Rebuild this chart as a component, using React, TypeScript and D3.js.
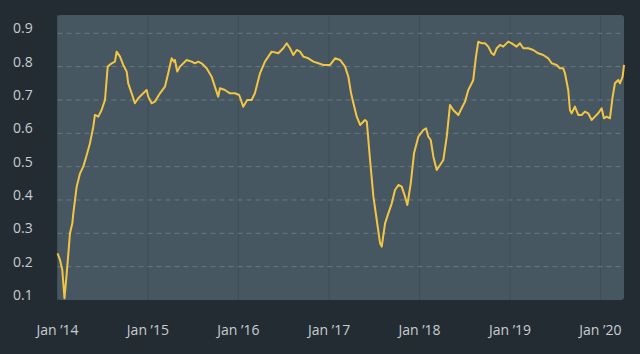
import React from "react";
import * as d3 from "d3";

// decimal years of each observation
const years: number[] = [
  2014.0, 2014.028, 2014.053, 2014.077, 2014.102, 2014.138, 2014.164, 2014.175, 2014.212, 2014.249,
  2014.285, 2014.323, 2014.359, 2014.396, 2014.414, 2014.451, 2014.488, 2014.525, 2014.555, 2014.599,
  2014.635, 2014.654, 2014.691, 2014.727, 2014.765, 2014.782, 2014.82, 2014.856, 2014.893, 2014.948,
  2014.986, 2015.003, 2015.041, 2015.077, 2015.133, 2015.188, 2015.224, 2015.262, 2015.287, 2015.298,
  2015.324, 2015.354, 2015.428, 2015.483, 2015.519, 2015.556, 2015.593, 2015.649, 2015.704, 2015.74,
  2015.777, 2015.796, 2015.851, 2015.906, 2015.961, 2016.009, 2016.053, 2016.097, 2016.146, 2016.182,
  2016.238, 2016.293, 2016.367, 2016.44, 2016.495, 2016.533, 2016.569, 2016.606, 2016.643, 2016.68,
  2016.716, 2016.771, 2016.827, 2016.882, 2016.937, 2017.011, 2017.066, 2017.122, 2017.177, 2017.213,
  2017.243, 2017.269, 2017.306, 2017.343, 2017.398, 2017.417, 2017.453, 2017.49, 2017.527, 2017.564,
  2017.582, 2017.619, 2017.655, 2017.693, 2017.729, 2017.766, 2017.803, 2017.84, 2017.865, 2017.903,
  2017.939, 2017.987, 2018.042, 2018.072, 2018.097, 2018.124, 2018.153, 2018.19, 2018.227, 2018.263,
  2018.301, 2018.337, 2018.373, 2018.429, 2018.466, 2018.503, 2018.539, 2018.577, 2018.594, 2018.624,
  2018.65, 2018.687, 2018.724, 2018.76, 2018.798, 2018.823, 2018.853, 2018.89, 2018.926, 2018.981,
  2019.019, 2019.074, 2019.11, 2019.147, 2019.202, 2019.257, 2019.313, 2019.368, 2019.423, 2019.461,
  2019.516, 2019.552, 2019.589, 2019.608, 2019.644, 2019.663, 2019.682, 2019.718, 2019.755, 2019.792,
  2019.829, 2019.865, 2019.903, 2019.939, 2019.976, 2020.013, 2020.039, 2020.069, 2020.105, 2020.135,
  2020.16, 2020.197, 2020.215, 2020.245, 2020.26,
];

const values: number[] = [
  0.24, 0.22, 0.19, 0.105, 0.18, 0.3, 0.33, 0.36, 0.44, 0.48,
  0.5, 0.535, 0.57, 0.62, 0.655, 0.65, 0.67, 0.7, 0.8, 0.81,
  0.815, 0.845, 0.83, 0.805, 0.785, 0.75, 0.72, 0.69, 0.705, 0.72,
  0.73, 0.71, 0.69, 0.695, 0.72, 0.74, 0.78, 0.825, 0.815, 0.82,
  0.785, 0.8, 0.82, 0.815, 0.81, 0.815, 0.81, 0.795, 0.77, 0.74,
  0.71, 0.735, 0.73, 0.72, 0.72, 0.715, 0.68, 0.7, 0.7, 0.72,
  0.78, 0.815, 0.845, 0.84, 0.855, 0.87, 0.855, 0.835, 0.85, 0.845,
  0.83, 0.825, 0.815, 0.81, 0.805, 0.805, 0.825, 0.82, 0.8, 0.77,
  0.72, 0.69, 0.65, 0.625, 0.64, 0.635, 0.52, 0.41, 0.34, 0.27,
  0.26, 0.33, 0.36, 0.39, 0.43, 0.445, 0.44, 0.41, 0.385, 0.45,
  0.54, 0.59, 0.61, 0.615, 0.59, 0.58, 0.53, 0.49, 0.505, 0.52,
  0.59, 0.685, 0.67, 0.655, 0.675, 0.695, 0.73, 0.75, 0.76, 0.83,
  0.875, 0.87, 0.87, 0.86, 0.84, 0.835, 0.855, 0.865, 0.86, 0.875,
  0.87, 0.86, 0.87, 0.855, 0.855, 0.85, 0.84, 0.835, 0.825, 0.81,
  0.805, 0.795, 0.795, 0.78, 0.73, 0.67, 0.66, 0.68, 0.655, 0.655,
  0.665, 0.66, 0.64, 0.65, 0.66, 0.675, 0.645, 0.65, 0.645, 0.71,
  0.75, 0.76, 0.75, 0.77, 0.805,
];

const yTicks: number[] = [0.1, 0.2, 0.3, 0.4, 0.5, 0.6, 0.7, 0.8, 0.9];
const xTickYears: number[] = [2014, 2015, 2016, 2017, 2018, 2019, 2020];

const toDate = (y: number): Date => {
  const yr = Math.floor(y);
  const start = Date.UTC(yr, 0, 1);
  const end = Date.UTC(yr + 1, 0, 1);
  return new Date(start + (y - yr) * (end - start));
};

export default function App() {
  const W = 640, H = 354;
  const plot = { left: 57.5, right: 624, top: 15, bottom: 300 };
  const data = years.map((y, i) => ({ date: toDate(y), value: values[i] }));

  const x = d3
    .scaleUtc()
    .domain([toDate(years[0]), toDate(years[years.length - 1])])
    .range([plot.left, plot.right]);
  const y = d3.scaleLinear().domain([0.1, 0.9]).range([300, 33.3]);

  const line = d3
    .line<{ date: Date; value: number }>()
    .x((d) => x(d.date))
    .y((d) => y(d.value))
    .curve(d3.curveLinear);

  const xTicks = xTickYears.map((yr) => new Date(Date.UTC(yr, 0, 1)));
  const fmt = (d: Date) => `Jan \u2019${String(d.getUTCFullYear()).slice(2)}`;
  const font = "'Open Sans', 'Noto Sans', sans-serif";

  return (
    <svg
      width={W}
      height={H}
      style={{ position: "absolute", left: 0, top: 0, display: "block" }}
    >
      <rect x={0} y={0} width={W} height={H} fill="#242c33" />
      <rect
        x={plot.left}
        y={plot.top}
        width={plot.right - plot.left}
        height={plot.bottom - plot.top}
        rx={3}
        fill="#465761"
      />
      {xTicks.map((t, i) => (
        <line
          key={"vx" + i}
          x1={x(t)}
          x2={x(t)}
          y1={plot.top}
          y2={plot.bottom}
          stroke="#3e4e58"
          strokeWidth={1}
        />
      ))}
      {yTicks.slice(1).map((v, i) => (
        <line
          key={"hy" + i}
          x1={plot.left}
          x2={plot.right}
          y1={y(v)}
          y2={y(v)}
          stroke="#687984"
          strokeWidth={1}
          strokeDasharray="5,4"
        />
      ))}
      <path
        d={line(data) || ""}
        fill="none"
        stroke="#f3c545"
        strokeWidth={2}
        strokeLinejoin="round"
      />
      {yTicks.map((v, i) => (
        <text
          key={"ty" + i}
          x={13}
          y={y(v)}
          fill="#c8cdd2"
          fontSize={14}
          fontFamily={font}
        >
          {v.toFixed(1)}
        </text>
      ))}
      {xTicks.map((t, i) => (
        <text
          key={"tx" + i}
          x={x(t)}
          y={335}
          fill="#c8cdd2"
          fontSize={14}
          fontFamily={font}
          textAnchor="middle"
        >
          {fmt(t)}
        </text>
      ))}
    </svg>
  );
}
